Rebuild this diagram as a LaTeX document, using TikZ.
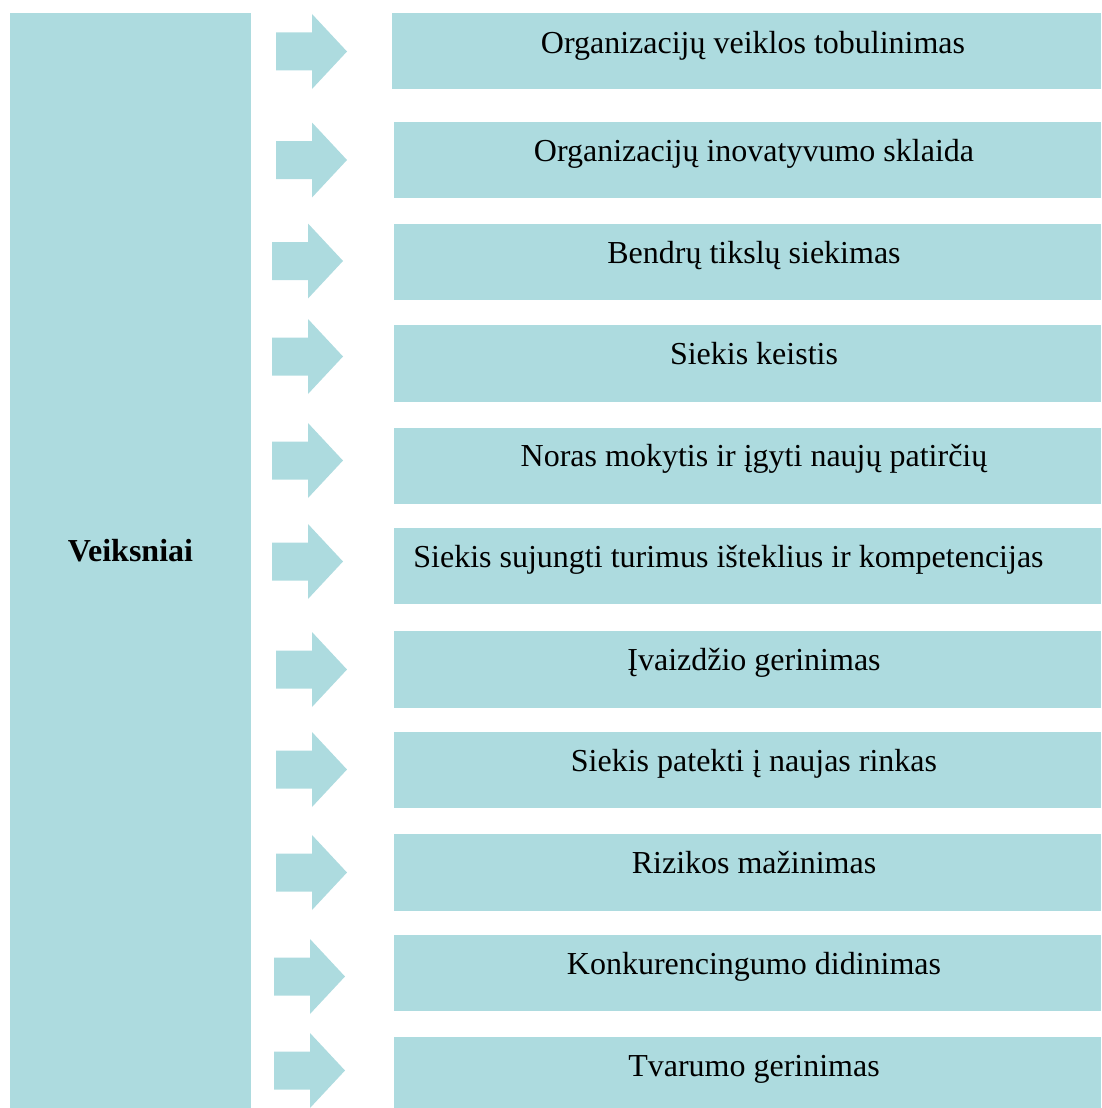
\documentclass[tikz,border=0pt]{standalone}
\usepackage{fontspec}
\setmainfont{Liberation Serif}
\usepackage{tikz}
\definecolor{boxblue}{RGB}{173,219,223}
% block arrow: shaft start x, middle y
\newcommand{\blockarrow}[2]{%
\fill[boxblue] (#1,#2) ++(0,-19) -- ++(36,0) -- ++(0,-18.5) -- ++(35,37.5)
  -- ++(-35,37.5) -- ++(0,-18.5) -- ++(-36,0) -- cycle;}

\begin{document}
\begin{tikzpicture}[x=1pt,y=-1pt,
  txt/.style={anchor=base,inner sep=0pt,font=\fontsize{32}{38}\selectfont}]
\useasboundingbox (0,0) rectangle (1102,1108);
%\draw[step=50,lightgray,very thin] (0,0) grid (1102,1108);
\fill[boxblue] (10,13) rectangle (251,1108);
\node[txt,font=\fontsize{32}{38}\selectfont\bfseries] (veiks) at (130.5,561) {Veiksniai};

\blockarrow{276}{51.5}
\blockarrow{276}{160}
\blockarrow{272}{261}
\blockarrow{272}{356.5}
\blockarrow{272}{460.5}
\blockarrow{272}{561.5}
\blockarrow{276}{669.5}
\blockarrow{276}{769.5}
\blockarrow{276}{872.5}
\blockarrow{274}{976.5}
\blockarrow{274}{1070.5}

\fill[boxblue] (392,13) rectangle (1101,89);
\node[txt] (f1) at (753,53) {Organizacijų veiklos tobulinimas};
\fill[boxblue] (394,122) rectangle (1101,198);
\node[txt] (f2) at (754,161) {Organizacijų inovatyvumo sklaida};
\fill[boxblue] (394,224) rectangle (1101,300);
\node[txt] (f3) at (754,263) {Bendrų tikslų siekimas};
\fill[boxblue] (394,325) rectangle (1101,402);
\node[txt] (f4) at (754,364) {Siekis keistis};
\fill[boxblue] (394,428) rectangle (1101,504);
\node[txt] (f5) at (754,466) {Noras mokytis ir įgyti naujų patirčių};
\fill[boxblue] (394,528) rectangle (1101,604);
\node[txt] (f6) at (728.5,567) {Siekis sujungti turimus išteklius ir kompetencijas};
\fill[boxblue] (394,631) rectangle (1101,708);
\node[txt] (f7) at (754,670) {Įvaizdžio gerinimas};
\fill[boxblue] (394,732) rectangle (1101,808);
\node[txt] (f8) at (754,771) {Siekis patekti į naujas rinkas};
\fill[boxblue] (394,834) rectangle (1101,911);
\node[txt] (f9) at (754,873) {Rizikos mažinimas};
\fill[boxblue] (394,935) rectangle (1101,1011);
\node[txt] (f10) at (754,974) {Konkurencingumo didinimas};
\fill[boxblue] (394,1037) rectangle (1101,1108);
\node[txt] (f11) at (754,1076) {Tvarumo gerinimas};
\end{tikzpicture}
\end{document}
